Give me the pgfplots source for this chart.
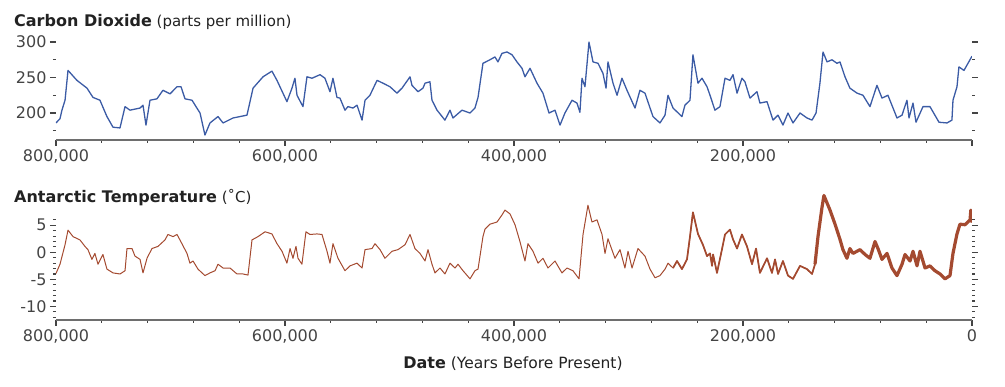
\documentclass[border=0pt]{standalone}
\usepackage{pgfplots}
\usepackage{pgfplotstable}
\pgfplotsset{compat=1.18}
\usepackage{fontspec}
\setmainfont{DejaVu Sans}
\definecolor{co2}{RGB}{59,91,165}
\definecolor{temp}{RGB}{164,74,48}
\definecolor{txt}{RGB}{34,34,34}
\definecolor{tck}{RGB}{68,68,68}
\definecolor{axl}{RGB}{110,110,110}

\pgfplotstableread{
x y
800.0 186
796.5 192
794.8 204
792.1 218
789.5 260
781.7 246
772.9 235
767.7 222
761.6 218
755.5 195
750.2 180
744.1 179
739.7 209
735.4 204
726.6 207
724.0 211
721.4 183
717.9 218
711.8 220
706.6 232
700.4 227
694.3 237
690.8 237
687.3 220
681.2 218
674.2 200
669.9 169
665.5 186
658.5 195
654.1 186
645.4 193
633.2 197
627.9 235
619.2 251
611.4 259
607.0 246
598.3 216
593.9 235
591.3 249
589.5 225
584.3 209
580.8 251
576.4 249
569.4 254
565.1 249
560.7 230
558.1 249
554.6 222
552.0 221
547.6 204
545.0 209
540.6 207
537.1 211
532.7 190
530.1 218
525.8 225
519.6 246
514.4 242
508.3 237
502.2 228
497.8 235
490.8 251
489.1 239
483.8 230
479.5 235
477.7 242
473.4 244
471.6 218
467.2 204
460.3 190
455.9 204
453.3 193
445.4 204
438.4 200
434.1 207
431.4 222
427.1 270
421.0 275
416.6 279
414.0 272
410.5 284
406.1 286
401.7 282
397.4 272
393.0 263
390.4 251
386.0 263
379.9 242
374.7 228
369.4 200
364.2 204
359.8 183
355.5 200
349.3 218
345.0 214
342.4 201
340.6 249
338.0 237
334.5 300
331.0 272
326.6 270
322.3 256
319.6 235
317.9 272
313.5 242
310.0 225
305.7 249
301.3 232
294.3 207
290.0 232
285.6 228
278.6 195
272.5 186
268.1 197
265.5 225
261.1 207
253.3 195
250.7 211
246.3 218
243.7 282
239.3 242
235.8 249
231.4 237
228.8 225
224.5 204
220.1 209
215.7 249
211.4 246
208.7 254
205.2 228
200.9 249
198.3 244
193.9 221
187.8 230
185.2 214
179.0 216
173.8 190
169.4 197
165.1 183
160.7 200
156.3 186
150.2 200
144.1 193
139.7 190
136.2 200
132.8 242
130.1 286
126.6 272
122.3 275
117.9 270
115.3 272
110.9 251
106.6 235
100.4 228
95.2 225
89.1 209
83.0 239
78.6 221
73.4 225
65.5 193
61.1 197
56.8 218
55.0 193
51.5 214
48.9 187
42.8 209
36.7 209
28.8 187
21.8 186
17.5 190
16.6 218
13.1 237
11.4 265
7.0 260
0.0 280
}\cotwo

\pgfplotstableread{
x y
800.0 -3.9
796.5 -2.2
792.1 1.4
789.5 4.1
785.1 2.9
779.1 2.3
774.7 1.1
772.1 0.5
768.6 -1.3
766.0 -0.2
763.3 -2.2
759.0 -0.4
755.5 -3.1
750.2 -3.8
744.1 -4.0
739.7 -3.4
738.0 0.7
733.6 0.7
731.0 -0.7
726.6 -1.3
724.0 -3.8
720.5 -1.1
716.2 0.7
710.9 1.1
704.8 2.3
702.2 3.3
697.8 2.9
694.3 3.3
690.0 1.6
685.6 -0.2
683.0 -2.0
680.3 -1.6
676.0 -3.1
669.9 -4.3
665.5 -3.8
661.1 -3.4
658.5 -2.2
654.1 -2.9
648.0 -2.9
641.9 -4.0
636.6 -4.0
632.3 -4.2
628.8 2.3
623.6 2.9
617.4 3.8
611.4 3.4
607.0 1.6
602.6 0.2
598.3 -2.0
595.6 0.7
593.0 -1.1
590.4 1.1
588.6 -1.1
585.2 -2.2
581.7 3.8
578.2 3.3
572.0 3.4
567.7 3.3
563.3 0.2
560.7 -2.0
558.1 1.6
553.7 -1.1
547.6 -3.4
543.2 -2.5
537.1 -2.0
532.7 -2.9
530.1 0.5
524.0 0.7
521.4 1.6
517.0 0.5
512.7 -1.1
506.5 0.2
501.3 0.5
495.2 1.4
490.8 3.3
486.5 0.7
482.1 -0.2
477.7 -1.6
475.1 0.5
471.6 -2.2
469.0 -3.8
464.6 -2.9
460.3 -4.0
455.9 -2.0
451.5 -2.9
448.9 -2.2
444.5 -3.4
438.4 -4.9
434.1 -3.4
431.4 -3.1
427.1 2.9
425.3 4.3
421.0 5.2
414.8 5.6
410.5 6.9
407.9 7.8
403.5 7.1
399.1 5.1
394.8 2.0
390.4 -1.6
387.8 1.6
383.4 0.2
379.0 -2.0
374.7 -1.1
370.3 -2.9
364.2 -1.6
358.1 -3.8
353.7 -2.9
348.5 -3.4
343.2 -4.9
339.7 3.3
335.4 8.7
331.9 5.6
327.5 6.0
323.1 3.3
320.5 -0.2
317.9 2.5
311.8 -1.1
307.4 0.5
303.1 -2.9
300.4 0.2
296.9 -2.9
291.7 0.7
285.6 -0.7
281.2 -3.1
276.8 -4.7
272.5 -4.3
268.1 -3.1
265.5 -2.0
261.1 -2.9
257.6 -1.6
253.3 -3.1
248.9 -1.3
246.3 2.9
243.7 7.4
239.3 3.4
235.0 1.4
231.4 -0.7
228.8 -0.2
227.0 -2.5
226.1 -0.4
222.7 -3.8
218.4 0.5
215.7 3.3
211.4 4.2
208.7 2.4
205.2 0.7
200.9 3.3
196.5 1.1
192.1 -2.2
188.6 0.7
185.2 -3.8
179.0 -1.1
174.7 -3.8
172.0 -1.3
169.4 -4.0
165.1 -1.6
160.7 -4.3
156.3 -4.9
150.2 -2.5
144.1 -3.1
139.7 -4.0
137.1 -2.2
134.5 2.9
131.0 8.3
129.3 10.5
124.0 7.8
119.6 5.2
115.3 2.4
112.7 0.5
109.2 -1.1
106.6 0.7
103.9 -0.2
97.8 0.5
93.4 -0.4
89.1 -1.1
84.7 2.0
82.1 0.7
78.6 -1.3
74.2 -0.2
69.9 -2.9
65.5 -4.3
61.1 -2.2
58.5 -0.4
54.1 -1.6
51.5 0.2
48.0 -2.5
45.4 0.2
41.0 -2.9
36.7 -2.5
32.3 -3.4
27.9 -4.0
23.6 -4.9
19.2 -4.3
16.6 -0.2
13.1 3.4
10.5 5.2
6.1 5.1
1.7 6.0
1.0 7.8
0.0 5.5
}\temp

\pgfplotsset{
 base/.style={
  scale only axis, width=916pt, anchor=south west,
  xmin=0, xmax=800, x dir=reverse,
  axis line style={draw=none},
  tick align=outside, ytick pos=both, xtick pos=left,
  major tick length=6pt, minor tick length=3pt,
  every tick/.style={draw=tck, line width=1.1pt},
  xtick={0,200,400,600,800},
  minor xtick={40,80,...,760},
  ticklabel style={font=\fontsize{16}{19}\selectfont, text=tck},
  after end axis/.code={\draw[axl, line width=1.3pt] (rel axis cs:0,0) -- (rel axis cs:1,0);},
 }}

\begin{document}
\begin{tikzpicture}
\useasboundingbox (0,0) rectangle (1005pt,387pt);

\begin{axis}[base, at={(56pt,247pt)}, height=100.1pt,
  ymin=162, ymax=303,
  ytick={200,250,300}, yticklabels={200,250,300},
  minor ytick={175,225,275},
  xticklabels={{},{200,000},{400,000},{600,000},{800,000}}]
\addplot[co2, line width=1.3pt, line join=round] table[x=x,y=y] {\cotwo};
\end{axis}

\begin{axis}[base, at={(56pt,67pt)}, height=127.2pt,
  ymin=-12.5, ymax=11,
  ytick={-10,-5,0,5}, yticklabels={-10,-5,0,5},
  minor ytick={-12,-11,...,6},
  xticklabels={{0},{200,000},{400,000},{600,000},{800,000}}]
\addplot[temp, line width=1.0pt, line join=round] table[x=x,y=y] {\temp};
\addplot[temp, line width=1.7pt, line join=round, restrict x to domain=136:262] table[x=x,y=y] {\temp};
\addplot[temp, line width=3.2pt, line join=round, restrict x to domain=0:138] table[x=x,y=y] {\temp};
\end{axis}

\node[anchor=base west, text=txt, inner sep=0pt] at (14pt,360pt)
  {\fontsize{16}{19}\selectfont\bfseries Carbon Dioxide\fontsize{15}{18}\selectfont\mdseries\ (parts per million)};
\node[anchor=base west, text=txt, inner sep=0pt] at (14pt,184pt)
  {\fontsize{16}{19}\selectfont\bfseries Antarctic Temperature\fontsize{15}{18}\selectfont\mdseries\ (˚C)};
\node[anchor=base, text=txt, inner sep=0pt] at (513pt,18pt)
  {\fontsize{16}{19}\selectfont\bfseries Date\fontsize{15.5}{18}\selectfont\mdseries\ (Years Before Present)};
\end{tikzpicture}
\end{document}
